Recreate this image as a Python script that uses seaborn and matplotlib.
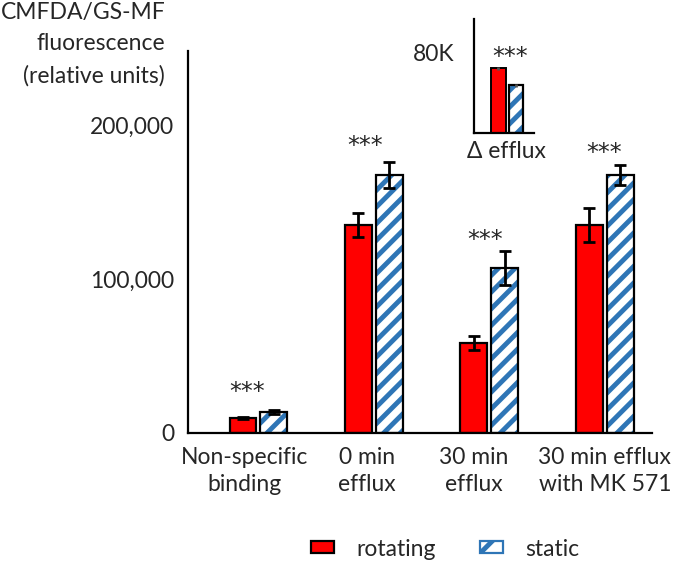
import numpy as np
import pandas as pd
import matplotlib.pyplot as plt
import matplotlib.transforms as mtransforms
import seaborn as sns
from matplotlib.patches import Rectangle, Patch

# values
categories = ["Non-specific\nbinding", "0 min\nefflux", "30 min\nefflux", "30 min efflux\nwith MK 571"]
conditions = ["rotating", "static"]
rotating = [10000, 135000, 58500, 135000]
static = [13500, 167500, 107000, 167500]
rotating_err = [700, 7500, 4500, 11000]
static_err = [1200, 8500, 11000, 6500]

# inset: difference in efflux
delta_values = [64000, 47000]
delta_err = [1500, 1500]

# significance marks (x position, baseline height)
star_x = [-0.1, 0.92, 1.96, 2.99]
star_y = [22000, 182000, 121000, 177000]

# small horizontal nudges of the category labels (pixels)
label_dx = [-14, -7, -16, 0]

RED = "#FF0000"
BLUE = "#2E75B6"

sns.set_theme(style="white")
plt.rcParams["font.family"] = ["Lato", "DejaVu Sans"]
plt.rcParams["hatch.linewidth"] = 3.5
FS = 16.5
STAR_FONT = {"family": "DejaVu Sans", "size": 17}

df = pd.DataFrame({
    "category": categories * 2,
    "condition": [conditions[0]] * 4 + [conditions[1]] * 4,
    "value": rotating + static,
})

fig = plt.figure(figsize=(6.85, 5.64), dpi=100)
ax = fig.add_axes([0.2745, 0.2323, 0.952 - 0.2745, 0.9096 - 0.2323])

sns.barplot(data=df, x="category", y="value", hue="condition",
            palette={"rotating": RED, "static": "white"}, saturation=1,
            width=0.535, gap=0.13, errorbar=None, legend=False,
            edgecolor="black", linewidth=1.6, ax=ax)


def hatch_bars(axis, bars):
    # blue stripes under a black outline
    for p in bars:
        p.set_hatch("//")
        p.set_edgecolor(BLUE)
        p.set_linewidth(0)
        axis.add_patch(Rectangle(p.get_xy(), p.get_width(), p.get_height(),
                                 fill=False, edgecolor="black", linewidth=1.6, zorder=3))


rot_bars, stat_bars = ax.containers[0], ax.containers[1]
hatch_bars(ax, stat_bars)

for bars, errs in [(rot_bars, rotating_err), (stat_bars, static_err)]:
    xs = [p.get_x() + p.get_width() / 2 for p in bars]
    ys = [p.get_height() for p in bars]
    ax.errorbar(xs, ys, yerr=errs, fmt="none", ecolor="black",
                elinewidth=2, capsize=4.5, capthick=2, zorder=4)

for i in range(len(categories)):
    ax.text(star_x[i], star_y[i], "***", ha="center", va="baseline", fontdict=STAR_FONT)

ax.set_xlim(-0.61, 3.41)
ax.set_ylim(0, 248000)
ax.set_yticks([0, 100000, 200000])
ax.set_yticklabels(["0", "100,000", "200,000"])
ax.tick_params(axis="both", length=0, labelsize=FS)
ax.tick_params(axis="y", pad=10)
ax.tick_params(axis="x", pad=10)
for lbl, dx in zip(ax.get_xticklabels(), label_dx):
    lbl.set_linespacing(1.35)
    lbl.set_transform(lbl.get_transform() + mtransforms.ScaledTranslation(dx / 100, 0, fig.dpi_scale_trans))
ax.set_xlabel("")
ax.set_ylabel("")
sns.despine(ax=ax)
for s in ["left", "bottom"]:
    ax.spines[s].set_linewidth(1.6)
    ax.spines[s].set_color("black")

# y-axis title
fig.text(1 / 685, 1 - 12 / 564, "CMFDA/GS-MF", ha="left", va="center", fontsize=FS)
fig.text(165 / 685, 1 - 43 / 564, "fluorescence", ha="right", va="center", fontsize=FS)
fig.text(165 / 685, 1 - 76 / 564, "(relative units)", ha="right", va="center", fontsize=FS)

# inset
ax_in = fig.add_axes([474 / 685, 1 - 133 / 564, 60 / 685, 114 / 564])
inset_df = pd.DataFrame({"condition": conditions, "value": delta_values})
sns.barplot(data=inset_df, x="condition", y="value", hue="condition",
            palette={"rotating": RED, "static": "white"}, saturation=1, width=0.84,
            errorbar=None, legend=False, edgecolor="black", linewidth=1.4, ax=ax_in)
hatch_bars(ax_in, ax_in.containers[1])
for bars, e in zip(ax_in.containers, delta_err):
    p = bars[0]
    ax_in.errorbar([p.get_x() + p.get_width() / 2], [p.get_height()], yerr=[e],
                   fmt="none", ecolor="#555555", elinewidth=2, capsize=0, zorder=4)
ax_in.set_xlim(-1.4, 2.03)
ax_in.set_ylim(0, 112600)
ax_in.set_yticks([80000])
ax_in.set_yticklabels(["80K"])
ax_in.set_xticks([])
ax_in.tick_params(axis="y", length=0, labelsize=FS, pad=14)
ax_in.set_xlabel("")
ax_in.set_ylabel("")
ax_in.patch.set_alpha(0)
sns.despine(ax=ax_in)
for s in ["left", "bottom"]:
    ax_in.spines[s].set_linewidth(1.6)
    ax_in.spines[s].set_color("black")
ax_in.text(0.66, 68000, "***", ha="center", va="baseline", fontdict=STAR_FONT)
fig.text(506 / 685, 1 - 152 / 564, "\u0394 efflux", ha="center", va="center", fontsize=FS)

# legend
handles = [Patch(facecolor=RED, edgecolor="black", linewidth=1.6),
           Patch(facecolor="white", edgecolor=BLUE, hatch="/", linewidth=1.6)]
fig.legend(handles, conditions, loc="center", bbox_to_anchor=(0.65, 1 - 549 / 564),
           ncol=2, frameon=False, fontsize=FS, handlelength=1.0, handleheight=0.45,
           handletextpad=1.0, columnspacing=1.9)

fig.savefig("out.png", dpi=100)
